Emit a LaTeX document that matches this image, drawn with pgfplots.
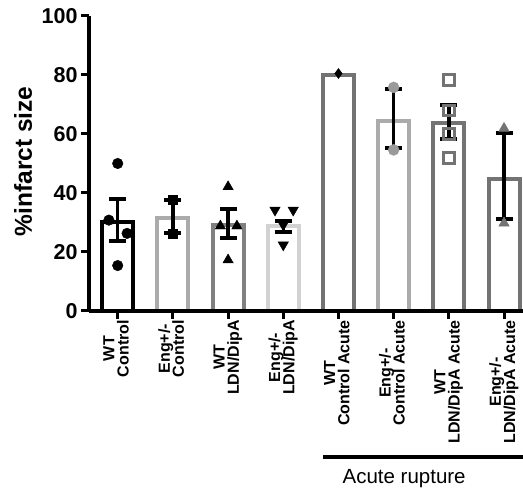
\documentclass[border=0pt]{standalone}
\usepackage{pgfplots}
\pgfplotsset{compat=1.18}
\usepackage{fontspec}
\setmainfont{Liberation Sans}
\definecolor{cA}{HTML}{ABABAB}
\definecolor{cB}{HTML}{808080}
\definecolor{cC}{HTML}{D2D2D2}
\definecolor{cD}{HTML}{737373}
\definecolor{cE}{HTML}{9A9A9A}
\newcommand\xtfont{\fontsize{16}{18}\selectfont\bfseries}
\newcommand\ytfont{\fontsize{21.5}{24}\selectfont\bfseries}
\newcommand\ylfont{\fontsize{24.5}{28}\selectfont\bfseries}
\newcommand\tl[2]{\begin{tabular}{@{}c@{}}\xtfont #1\\[-1pt]\xtfont #2\end{tabular}}
\pgfplotsset{
  eb/.style={black, line width=3.5pt, mark=none, forget plot},
  cap/.style={black, line width=4pt, mark=none, forget plot},
}
\begin{document}
\begin{tikzpicture}
\begin{axis}[
  scale only axis, width=434pt, height=295pt,
  xmin=-0.52, xmax=7.344, ymin=0, ymax=100,
  axis x line*=bottom, axis y line*=left,
  axis line style={line width=3.3pt},
  tick style={black, line width=3pt},
  major tick length=8pt, tick align=outside,
  xtick={0,1,2,3,4,5,6,7},
  xticklabels={{\tl{WT}{Control}},{\tl{Eng+/-}{Control}},{\tl{WT}{LDN/DipA}},{\tl{Eng+/-}{LDN/DipA}},{\tl{WT}{Control Acute}},{\tl{Eng+/-}{Control Acute}},{\tl{WT}{LDN/DipA Acute}},{\tl{Eng+/-}{LDN/DipA Acute}}},
  xticklabel style={rotate=90, anchor=east, inner sep=1pt},
  ytick={0,20,40,60,80,100},
  yticklabels={{\ytfont 0},{\ytfont 20},{\ytfont 40},{\ytfont 60},{\ytfont 80},{\ytfont 100}},
  ylabel={\ylfont\%infarct size},
  ylabel style={at={(axis description cs:-0.152,0.507)}, anchor=center},
  clip=false, axis on top,
]
% bars
\addplot[ybar, bar width=31pt, bar shift=0pt, draw=black, fill=white, line width=4pt] coordinates {(0,30.3)};
\addplot[ybar, bar width=31pt, bar shift=0pt, draw=cA, fill=white, line width=4pt] coordinates {(1,31.4)};
\addplot[ybar, bar width=31pt, bar shift=0pt, draw=cB, fill=white, line width=4pt] coordinates {(2,29.0)};
\addplot[ybar, bar width=31pt, bar shift=0pt, draw=cC, fill=white, line width=4pt] coordinates {(3,28.8)};
\addplot[ybar, bar width=31pt, bar shift=0pt, draw=cD, fill=white, line width=4pt] coordinates {(4,80.1)};
\addplot[ybar, bar width=31pt, bar shift=0pt, draw=cA, fill=white, line width=4pt] coordinates {(5,64.4)};
\addplot[ybar, bar width=31pt, bar shift=0pt, draw=cD, fill=white, line width=4pt] coordinates {(6,63.6)};
\addplot[ybar, bar width=31pt, bar shift=0pt, draw=cD, fill=white, line width=4pt] coordinates {(7,44.7)};
% individual points
\addplot[only marks, mark=*, mark size=5.3pt, black] coordinates {(0,50.0) (-0.16,30.8) (0.17,26.3) (0,15.4)};
\addplot[only marks, mark=square*, mark size=4.5pt, black] coordinates {(1,37.6) (1,26.3)};
\addplot[only marks, mark=triangle*, mark size=6pt, black] coordinates {(2,42.1) (1.86,28.8) (2.16,28.8) (2,17.3)};
\addplot[only marks, mark=triangle*, mark size=6pt, black, mark options={rotate=180}] coordinates {(2.85,34.2) (3.18,34.2) (3.0,29.2) (3.0,22.4)};
\addplot[only marks, mark=diamond*, mark size=5pt, black] coordinates {(4,80.5)};
\addplot[only marks, mark=*, mark size=5.5pt, cE] coordinates {(5,75.8) (5,54.6)};
\addplot[only marks, mark=square, mark size=5.2pt, cD, mark options={line width=3pt}] coordinates {(6,78.3) (6,68.0) (6,60.0) (6,51.8)};
\addplot[only marks, mark=triangle*, mark size=6pt, cD] coordinates {(7,61.9) (7,29.8)};
% error bars (mean +- SEM): stems
\addplot[eb] coordinates {(0,23.8) (0,37.9)};
\addplot[eb] coordinates {(1,26.3) (1,37.6)};
\addplot[eb] coordinates {(2,24.6) (2,34.5)};
\addplot[eb] coordinates {(3,26.9) (3,30.6)};
\addplot[eb] coordinates {(5,55.2) (5,75.2)};
\addplot[eb] coordinates {(6,58.3) (6,69.8)};
\addplot[eb] coordinates {(7,31.1) (7,60.4)};
% caps
\addplot[cap] coordinates {(-0.154,23.8) (0.154,23.8)};
\addplot[cap] coordinates {(-0.154,37.9) (0.154,37.9)};
\addplot[cap] coordinates {(0.846,26.3) (1.154,26.3)};
\addplot[cap] coordinates {(0.846,37.6) (1.154,37.6)};
\addplot[cap] coordinates {(1.846,24.6) (2.154,24.6)};
\addplot[cap] coordinates {(1.846,34.5) (2.154,34.5)};
\addplot[cap] coordinates {(2.846,26.9) (3.154,26.9)};
\addplot[cap] coordinates {(2.846,30.6) (3.154,30.6)};
\addplot[cap] coordinates {(4.846,55.2) (5.154,55.2)};
\addplot[cap] coordinates {(4.846,75.2) (5.154,75.2)};
\addplot[cap] coordinates {(5.846,58.3) (6.154,58.3)};
\addplot[cap] coordinates {(5.846,69.8) (6.154,69.8)};
\addplot[cap] coordinates {(6.846,31.1) (7.154,31.1)};
\addplot[cap] coordinates {(6.846,60.4) (7.154,60.4)};
% group bracket
\draw[line width=4.3pt] (axis cs:3.72,-49.4) -- (axis cs:7.344,-49.4);
\node[anchor=base, font=\fontsize{20.5}{24}\selectfont] at (axis cs:5.19,-58.4) {Acute rupture};
\coordinate (BL) at (axis cs:-2.133,-60.34);
\coordinate (TR) at (axis cs:7.344,105.42);
\end{axis}
\pgfresetboundingbox
\useasboundingbox (BL) rectangle (TR);
\end{tikzpicture}
\end{document}
